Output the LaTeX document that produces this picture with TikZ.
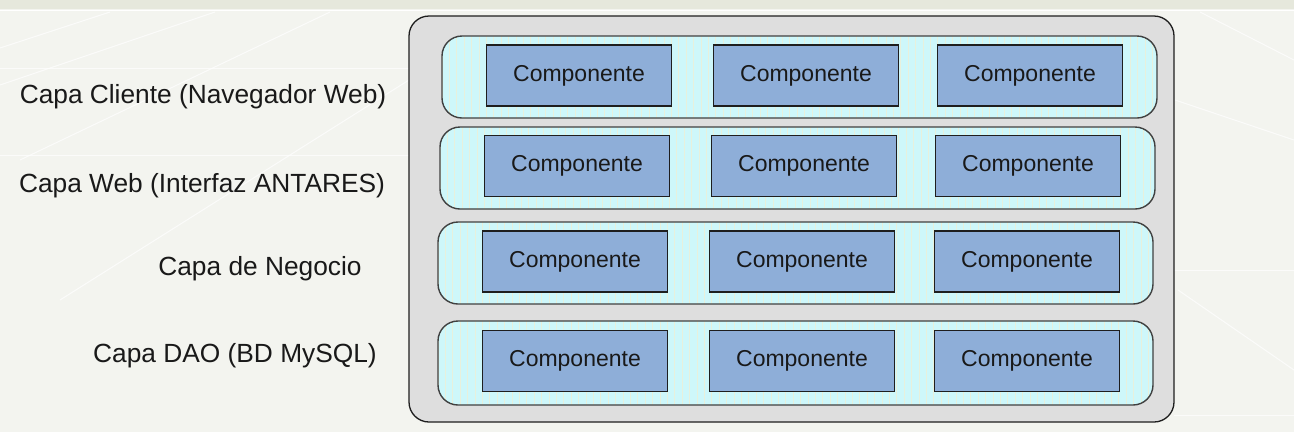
\documentclass[tikz,border=0pt]{standalone}
\usepackage{fontspec}
\setmainfont{Liberation Sans}
\definecolor{bgc}{RGB}{243,244,239}
\definecolor{topc}{RGB}{230,232,220}
\definecolor{outerc}{RGB}{222,222,222}
\definecolor{rowc}{RGB}{206,247,250}
\definecolor{stripec}{RGB}{232,240,220}
\definecolor{compc}{RGB}{142,174,216}
\definecolor{edgec}{RGB}{30,30,30}
\definecolor{txtc}{RGB}{25,25,25}
\begin{document}
\begin{tikzpicture}[x=1pt,y=-1pt,
  outerbox/.style={draw=edgec,line width=1.3pt,fill=outerc,rounded corners=20pt},
  rowbox/.style={draw=edgec!85,line width=1.4pt,rounded corners=20pt},
  compbox/.style={draw=edgec,line width=1.2pt,fill=compc,minimum width=185pt,minimum height=61pt,inner sep=0pt,font=\fontsize{23}{27}\selectfont,text=txtc},
  lbl/.style={font=\fontsize{26.3}{30}\selectfont,text=txtc,inner sep=0pt},
  deco/.style={white,line width=1pt,opacity=0.7}]
\useasboundingbox (0,0) rectangle (1294,432);
\fill[bgc] (0,0) rectangle (1294,432);
\fill[topc] (0,0) rectangle (1294,9);
\draw[white,line width=1.5pt] (0,10.5) -- (1294,10.5);
% faint background lines
\draw[deco] (0,48) -- (110,12);
\draw[deco] (0,85) -- (215,12);
\draw[deco] (20,160) -- (330,12);
\draw[deco] (60,300) -- (409,80);
\draw[deco] (0,68) -- (409,68);
\draw[deco] (0,155) -- (409,155);
\draw[deco] (1174,270) -- (1294,270);
\draw[deco] (1174,415) -- (1294,415);
\draw[deco] (1178,290) -- (1294,370);
\draw[deco] (1200,12) -- (1294,60);
\draw[deco] (1175,100) -- (1294,140);
% outer box
\draw[outerbox] (409,16) rectangle (1174,422);
% rows with faint vertical stripes
\foreach \xa/\ya/\xb/\yb in {442/36/1157/118, 440/127/1155/209, 438/222/1153/304, 438/321/1153/405}{
  \fill[rowc,rounded corners=20pt] (\xa,\ya) rectangle (\xb,\yb);
  \begin{scope}
    \clip[rounded corners=20pt] (\xa,\ya) rectangle (\xb,\yb);
    \foreach \s in {0,7.4,...,720}{
      \draw[stripec,line width=0.9pt] (\xa+\s,\ya) -- (\xa+\s,\yb);
    }
  \end{scope}
  \draw[rowbox] (\xa,\ya) rectangle (\xb,\yb);
}
% components
\node[compbox] (c11) at (579,75.5) {Componente};
\node[compbox] (c12) at (806,75.5) {Componente};
\node[compbox] (c13) at (1030,75.5) {Componente};
\node[compbox] (c21) at (577,166) {Componente};
\node[compbox] (c22) at (804,166) {Componente};
\node[compbox] (c23) at (1028,166) {Componente};
\node[compbox] (c31) at (575,261.5) {Componente};
\node[compbox] (c32) at (802,261.5) {Componente};
\node[compbox] (c33) at (1027,261.5) {Componente};
\node[compbox] (c41) at (575,361) {Componente};
\node[compbox] (c42) at (802,361) {Componente};
\node[compbox] (c43) at (1027,361) {Componente};
% labels
\node[lbl] (l1) at (203,97) {Capa Cliente (Navegador Web)};
\node[lbl] (l2) at (202,186) {Capa Web (Interfaz ANTARES)};
\node[lbl] (l3) at (260,269) {Capa de Negocio};
\node[lbl] (l4) at (235,356) {Capa DAO (BD MySQL)};
\end{tikzpicture}
\end{document}
